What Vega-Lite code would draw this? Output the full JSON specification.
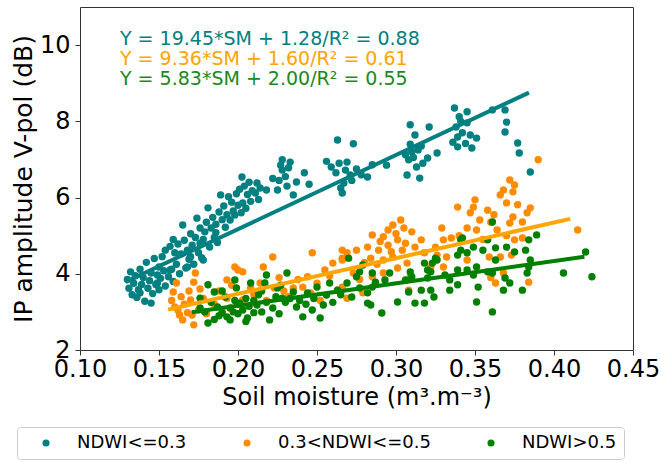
{
"$schema": "https://vega.github.io/schema/vega-lite/v6.json",
"width": 553, "height": 343,
"autosize": {"type": "none"},
"padding": {"left": 80, "top": 7, "right": 28, "bottom": 111},
"config": {
  "font": "DejaVu Sans",
  "view": {"stroke": "#333", "strokeWidth": 1},
  "axis": {"grid": false, "domain": false, "tickSize": 5, "tickColor": "#333", "labelFontSize": 24, "titleFontSize": 24, "titleFontWeight": "normal", "labelColor": "#000", "titleColor": "#000", "labelFont": "DejaVu Sans", "titleFont": "DejaVu Sans"}
},
"datasets": {
"pts": [
{"g":"NDWI<=0.3","x":0.130,"y":3.85},{"g":"NDWI<=0.3","x":0.131,"y":3.62},{"g":"NDWI<=0.3","x":0.132,"y":4.05},{"g":"NDWI<=0.3","x":0.133,"y":3.45},{"g":"NDWI<=0.3","x":0.134,"y":3.75},{"g":"NDWI<=0.3","x":0.135,"y":3.95},{"g":"NDWI<=0.3","x":0.136,"y":3.38},{"g":"NDWI<=0.3","x":0.137,"y":3.58},{"g":"NDWI<=0.3","x":0.138,"y":4.12},{"g":"NDWI<=0.3","x":0.139,"y":3.72},
{"g":"NDWI<=0.3","x":0.140,"y":3.9},{"g":"NDWI<=0.3","x":0.141,"y":3.28},{"g":"NDWI<=0.3","x":0.142,"y":4.3},{"g":"NDWI<=0.3","x":0.143,"y":3.62},{"g":"NDWI<=0.3","x":0.144,"y":3.82},{"g":"NDWI<=0.3","x":0.145,"y":4.02},{"g":"NDWI<=0.3","x":0.146,"y":3.48},{"g":"NDWI<=0.3","x":0.147,"y":4.4},{"g":"NDWI<=0.3","x":0.148,"y":3.72},{"g":"NDWI<=0.3","x":0.149,"y":3.97},
{"g":"NDWI<=0.3","x":0.150,"y":4.18},{"g":"NDWI<=0.3","x":0.150,"y":3.58},{"g":"NDWI<=0.3","x":0.151,"y":3.88},{"g":"NDWI<=0.3","x":0.152,"y":4.45},{"g":"NDWI<=0.3","x":0.153,"y":4.08},{"g":"NDWI<=0.3","x":0.154,"y":3.68},{"g":"NDWI<=0.3","x":0.154,"y":4.62},{"g":"NDWI<=0.3","x":0.156,"y":3.92},{"g":"NDWI<=0.3","x":0.157,"y":4.72},{"g":"NDWI<=0.3","x":0.158,"y":4.12},
{"g":"NDWI<=0.3","x":0.159,"y":3.8},{"g":"NDWI<=0.3","x":0.159,"y":4.9},{"g":"NDWI<=0.3","x":0.161,"y":4.25},{"g":"NDWI<=0.3","x":0.162,"y":4.78},{"g":"NDWI<=0.3","x":0.163,"y":4.0},{"g":"NDWI<=0.3","x":0.164,"y":4.52},{"g":"NDWI<=0.3","x":0.165,"y":5.28},{"g":"NDWI<=0.3","x":0.166,"y":4.88},{"g":"NDWI<=0.3","x":0.167,"y":4.15},{"g":"NDWI<=0.3","x":0.168,"y":4.62},
{"g":"NDWI<=0.3","x":0.169,"y":4.38},{"g":"NDWI<=0.3","x":0.170,"y":5.05},{"g":"NDWI<=0.3","x":0.171,"y":4.75},{"g":"NDWI<=0.3","x":0.172,"y":4.25},{"g":"NDWI<=0.3","x":0.173,"y":4.95},{"g":"NDWI<=0.3","x":0.174,"y":5.46},{"g":"NDWI<=0.3","x":0.175,"y":4.55},{"g":"NDWI<=0.3","x":0.176,"y":5.2},{"g":"NDWI<=0.3","x":0.177,"y":4.42},{"g":"NDWI<=0.3","x":0.178,"y":4.9},
{"g":"NDWI<=0.3","x":0.179,"y":5.1},{"g":"NDWI<=0.3","x":0.180,"y":5.35},{"g":"NDWI<=0.3","x":0.181,"y":5.73},{"g":"NDWI<=0.3","x":0.182,"y":4.7},{"g":"NDWI<=0.3","x":0.183,"y":5.2},{"g":"NDWI<=0.3","x":0.184,"y":5.48},{"g":"NDWI<=0.3","x":0.185,"y":4.95},{"g":"NDWI<=0.3","x":0.186,"y":5.3},{"g":"NDWI<=0.3","x":0.187,"y":4.82},{"g":"NDWI<=0.3","x":0.188,"y":5.62},
{"g":"NDWI<=0.3","x":0.189,"y":6.07},{"g":"NDWI<=0.3","x":0.190,"y":5.42},{"g":"NDWI<=0.3","x":0.191,"y":5.78},{"g":"NDWI<=0.3","x":0.192,"y":5.22},{"g":"NDWI<=0.3","x":0.193,"y":5.55},{"g":"NDWI<=0.3","x":0.194,"y":6.02},{"g":"NDWI<=0.3","x":0.195,"y":5.41},{"g":"NDWI<=0.3","x":0.196,"y":5.88},{"g":"NDWI<=0.3","x":0.197,"y":5.65},{"g":"NDWI<=0.3","x":0.198,"y":5.54},
{"g":"NDWI<=0.3","x":0.199,"y":6.1},{"g":"NDWI<=0.3","x":0.200,"y":5.8},{"g":"NDWI<=0.3","x":0.201,"y":6.22},{"g":"NDWI<=0.3","x":0.202,"y":5.6},{"g":"NDWI<=0.3","x":0.2025,"y":6.54},{"g":"NDWI<=0.3","x":0.203,"y":5.86},{"g":"NDWI<=0.3","x":0.204,"y":6.3},{"g":"NDWI<=0.3","x":0.205,"y":5.72},{"g":"NDWI<=0.3","x":0.206,"y":6.08},{"g":"NDWI<=0.3","x":0.207,"y":6.4},
{"g":"NDWI<=0.3","x":0.208,"y":5.9},{"g":"NDWI<=0.3","x":0.209,"y":6.18},{"g":"NDWI<=0.3","x":0.211,"y":6.12},{"g":"NDWI<=0.3","x":0.212,"y":6.38},{"g":"NDWI<=0.3","x":0.213,"y":5.95},{"g":"NDWI<=0.3","x":0.214,"y":6.25},{"g":"NDWI<=0.3","x":0.145,"y":3.23},{"g":"NDWI<=0.3","x":0.149,"y":3.76},{"g":"NDWI<=0.3","x":0.157,"y":4.1},{"g":"NDWI<=0.3","x":0.168,"y":4.18},
{"g":"NDWI<=0.3","x":0.178,"y":4.36},{"g":"NDWI<=0.3","x":0.138,"y":3.5},{"g":"NDWI<=0.3","x":0.160,"y":4.55},{"g":"NDWI<=0.3","x":0.170,"y":4.45},{"g":"NDWI<=0.3","x":0.186,"y":5.08},{"g":"NDWI<=0.3","x":0.176,"y":4.8},
{"g":"NDWI<=0.3","x":0.263,"y":7.51},{"g":"NDWI<=0.3","x":0.273,"y":7.41},{"g":"NDWI<=0.3","x":0.228,"y":6.99},{"g":"NDWI<=0.3","x":0.233,"y":6.93},{"g":"NDWI<=0.3","x":0.228,"y":6.72},{"g":"NDWI<=0.3","x":0.242,"y":6.65},{"g":"NDWI<=0.3","x":0.237,"y":6.41},{"g":"NDWI<=0.3","x":0.225,"y":6.2},{"g":"NDWI<=0.3","x":0.235,"y":6.07},{"g":"NDWI<=0.3","x":0.259,"y":6.8},
{"g":"NDWI<=0.3","x":0.269,"y":6.93},{"g":"NDWI<=0.3","x":0.271,"y":6.59},{"g":"NDWI<=0.3","x":0.265,"y":6.25},{"g":"NDWI<=0.3","x":0.266,"y":6.12},{"g":"NDWI<=0.3","x":0.282,"y":6.54},{"g":"NDWI<=0.3","x":0.285,"y":6.86},{"g":"NDWI<=0.3","x":0.230,"y":6.55},{"g":"NDWI<=0.3","x":0.226,"y":6.45},{"g":"NDWI<=0.3","x":0.232,"y":6.78},{"g":"NDWI<=0.3","x":0.262,"y":6.65},
{"g":"NDWI<=0.3","x":0.268,"y":6.72},{"g":"NDWI<=0.3","x":0.272,"y":6.45},{"g":"NDWI<=0.3","x":0.267,"y":6.38},{"g":"NDWI<=0.3","x":0.264,"y":6.9},{"g":"NDWI<=0.3","x":0.227,"y":6.85},{"g":"NDWI<=0.3","x":0.231,"y":6.3},{"g":"NDWI<=0.3","x":0.218,"y":6.2},{"g":"NDWI<=0.3","x":0.222,"y":6.5},{"g":"NDWI<=0.3","x":0.245,"y":6.35},{"g":"NDWI<=0.3","x":0.275,"y":6.75},
{"g":"NDWI<=0.3","x":0.278,"y":6.6},{"g":"NDWI<=0.3","x":0.256,"y":6.95},
{"g":"NDWI<=0.3","x":0.337,"y":8.35},{"g":"NDWI<=0.3","x":0.345,"y":8.25},{"g":"NDWI<=0.3","x":0.361,"y":8.30},{"g":"NDWI<=0.3","x":0.369,"y":8.30},{"g":"NDWI<=0.3","x":0.370,"y":7.98},{"g":"NDWI<=0.3","x":0.369,"y":7.72},{"g":"NDWI<=0.3","x":0.377,"y":7.43},{"g":"NDWI<=0.3","x":0.378,"y":7.17},{"g":"NDWI<=0.3","x":0.385,"y":6.67},{"g":"NDWI<=0.3","x":0.309,"y":7.91},
{"g":"NDWI<=0.3","x":0.321,"y":7.85},{"g":"NDWI<=0.3","x":0.312,"y":7.64},{"g":"NDWI<=0.3","x":0.310,"y":7.20},{"g":"NDWI<=0.3","x":0.314,"y":7.25},{"g":"NDWI<=0.3","x":0.308,"y":6.99},{"g":"NDWI<=0.3","x":0.313,"y":6.80},{"g":"NDWI<=0.3","x":0.307,"y":6.59},{"g":"NDWI<=0.3","x":0.315,"y":6.51},{"g":"NDWI<=0.3","x":0.320,"y":7.04},{"g":"NDWI<=0.3","x":0.326,"y":7.17},
{"g":"NDWI<=0.3","x":0.339,"y":7.59},{"g":"NDWI<=0.3","x":0.339,"y":7.33},{"g":"NDWI<=0.3","x":0.347,"y":7.64},{"g":"NDWI<=0.3","x":0.351,"y":7.56},{"g":"NDWI<=0.3","x":0.345,"y":7.96},{"g":"NDWI<=0.3","x":0.340,"y":8.12},{"g":"NDWI<=0.3","x":0.311,"y":7.05},{"g":"NDWI<=0.3","x":0.316,"y":7.35},{"g":"NDWI<=0.3","x":0.309,"y":7.4},{"g":"NDWI<=0.3","x":0.336,"y":7.45},
{"g":"NDWI<=0.3","x":0.342,"y":7.7},{"g":"NDWI<=0.3","x":0.338,"y":7.85},{"g":"NDWI<=0.3","x":0.344,"y":7.42},{"g":"NDWI<=0.3","x":0.348,"y":7.3},{"g":"NDWI<=0.3","x":0.306,"y":7.12},{"g":"NDWI<=0.3","x":0.317,"y":6.9},{"g":"NDWI<=0.3","x":0.341,"y":8.0},{"g":"NDWI<=0.3","x":0.294,"y":6.85},
{"g":"0.3<NDWI<=0.5","x":0.161,"y":3.76},{"g":"0.3<NDWI<=0.5","x":0.159,"y":3.52},{"g":"0.3<NDWI<=0.5","x":0.160,"y":3.13},{"g":"0.3<NDWI<=0.5","x":0.163,"y":2.92},{"g":"0.3<NDWI<=0.5","x":0.165,"y":2.79},{"g":"0.3<NDWI<=0.5","x":0.172,"y":2.66},{"g":"0.3<NDWI<=0.5","x":0.171,"y":2.92},{"g":"0.3<NDWI<=0.5","x":0.170,"y":3.31},{"g":"0.3<NDWI<=0.5","x":0.173,"y":4.02},{"g":"0.3<NDWI<=0.5","x":0.172,"y":3.78},
{"g":"0.3<NDWI<=0.5","x":0.158,"y":3.3},{"g":"0.3<NDWI<=0.5","x":0.162,"y":3.05},{"g":"0.3<NDWI<=0.5","x":0.164,"y":3.4},{"g":"0.3<NDWI<=0.5","x":0.166,"y":3.2},{"g":"0.3<NDWI<=0.5","x":0.168,"y":2.98},{"g":"0.3<NDWI<=0.5","x":0.169,"y":3.55},{"g":"0.3<NDWI<=0.5","x":0.175,"y":3.05},{"g":"0.3<NDWI<=0.5","x":0.176,"y":3.6},{"g":"0.3<NDWI<=0.5","x":0.178,"y":3.35},{"g":"0.3<NDWI<=0.5","x":0.180,"y":2.95},
{"g":"0.3<NDWI<=0.5","x":0.193,"y":3.84},{"g":"0.3<NDWI<=0.5","x":0.198,"y":4.18},{"g":"0.3<NDWI<=0.5","x":0.203,"y":4.05},{"g":"0.3<NDWI<=0.5","x":0.216,"y":4.18},{"g":"0.3<NDWI<=0.5","x":0.222,"y":4.44},{"g":"0.3<NDWI<=0.5","x":0.214,"y":3.76},{"g":"0.3<NDWI<=0.5","x":0.208,"y":3.63},{"g":"0.3<NDWI<=0.5","x":0.193,"y":3.36},{"g":"0.3<NDWI<=0.5","x":0.203,"y":3.31},{"g":"0.3<NDWI<=0.5","x":0.223,"y":3.63},
{"g":"0.3<NDWI<=0.5","x":0.235,"y":3.63},{"g":"0.3<NDWI<=0.5","x":0.244,"y":3.92},{"g":"0.3<NDWI<=0.5","x":0.247,"y":4.55},{"g":"0.3<NDWI<=0.5","x":0.241,"y":3.65},{"g":"0.3<NDWI<=0.5","x":0.260,"y":4.28},{"g":"0.3<NDWI<=0.5","x":0.266,"y":4.62},{"g":"0.3<NDWI<=0.5","x":0.266,"y":4.41},{"g":"0.3<NDWI<=0.5","x":0.263,"y":3.57},{"g":"0.3<NDWI<=0.5","x":0.269,"y":3.36},{"g":"0.3<NDWI<=0.5","x":0.200,"y":4.10},
{"g":"0.3<NDWI<=0.5","x":0.188,"y":3.55},{"g":"0.3<NDWI<=0.5","x":0.196,"y":3.7},{"g":"0.3<NDWI<=0.5","x":0.210,"y":3.45},{"g":"0.3<NDWI<=0.5","x":0.226,"y":3.9},{"g":"0.3<NDWI<=0.5","x":0.232,"y":3.4},{"g":"0.3<NDWI<=0.5","x":0.238,"y":3.85},{"g":"0.3<NDWI<=0.5","x":0.250,"y":3.75},{"g":"0.3<NDWI<=0.5","x":0.255,"y":4.1},{"g":"0.3<NDWI<=0.5","x":0.258,"y":3.95},{"g":"0.3<NDWI<=0.5","x":0.229,"y":3.55},
{"g":"0.3<NDWI<=0.5","x":0.185,"y":3.2},{"g":"0.3<NDWI<=0.5","x":0.190,"y":3.0},{"g":"0.3<NDWI<=0.5","x":0.218,"y":3.3},{"g":"0.3<NDWI<=0.5","x":0.246,"y":3.5},{"g":"0.3<NDWI<=0.5","x":0.252,"y":3.3},
{"g":"0.3<NDWI<=0.5","x":0.390,"y":6.99},{"g":"0.3<NDWI<=0.5","x":0.372,"y":6.46},{"g":"0.3<NDWI<=0.5","x":0.375,"y":6.33},{"g":"0.3<NDWI<=0.5","x":0.368,"y":6.20},{"g":"0.3<NDWI<=0.5","x":0.366,"y":6.07},{"g":"0.3<NDWI<=0.5","x":0.350,"y":5.94},{"g":"0.3<NDWI<=0.5","x":0.349,"y":5.75},{"g":"0.3<NDWI<=0.5","x":0.339,"y":5.75},{"g":"0.3<NDWI<=0.5","x":0.358,"y":5.67},{"g":"0.3<NDWI<=0.5","x":0.370,"y":5.86},
{"g":"0.3<NDWI<=0.5","x":0.377,"y":5.81},{"g":"0.3<NDWI<=0.5","x":0.385,"y":5.73},{"g":"0.3<NDWI<=0.5","x":0.347,"y":5.60},{"g":"0.3<NDWI<=0.5","x":0.353,"y":5.41},{"g":"0.3<NDWI<=0.5","x":0.374,"y":5.49},{"g":"0.3<NDWI<=0.5","x":0.380,"y":5.36},{"g":"0.3<NDWI<=0.5","x":0.372,"y":5.33},{"g":"0.3<NDWI<=0.5","x":0.364,"y":5.15},{"g":"0.3<NDWI<=0.5","x":0.351,"y":5.15},{"g":"0.3<NDWI<=0.5","x":0.345,"y":5.20},
{"g":"0.3<NDWI<=0.5","x":0.329,"y":5.20},{"g":"0.3<NDWI<=0.5","x":0.415,"y":5.15},{"g":"0.3<NDWI<=0.5","x":0.303,"y":5.41},{"g":"0.3<NDWI<=0.5","x":0.298,"y":5.28},{"g":"0.3<NDWI<=0.5","x":0.295,"y":5.15},{"g":"0.3<NDWI<=0.5","x":0.285,"y":5.02},{"g":"0.3<NDWI<=0.5","x":0.292,"y":4.97},{"g":"0.3<NDWI<=0.5","x":0.301,"y":4.89},{"g":"0.3<NDWI<=0.5","x":0.316,"y":4.89},{"g":"0.3<NDWI<=0.5","x":0.330,"y":4.89},
{"g":"0.3<NDWI<=0.5","x":0.335,"y":4.94},{"g":"0.3<NDWI<=0.5","x":0.375,"y":4.89},{"g":"0.3<NDWI<=0.5","x":0.380,"y":4.94},{"g":"0.3<NDWI<=0.5","x":0.275,"y":4.62},{"g":"0.3<NDWI<=0.5","x":0.269,"y":4.55},{"g":"0.3<NDWI<=0.5","x":0.289,"y":4.62},{"g":"0.3<NDWI<=0.5","x":0.304,"y":4.62},{"g":"0.3<NDWI<=0.5","x":0.312,"y":4.70},{"g":"0.3<NDWI<=0.5","x":0.298,"y":4.44},{"g":"0.3<NDWI<=0.5","x":0.292,"y":4.36},
{"g":"0.3<NDWI<=0.5","x":0.284,"y":4.41},{"g":"0.3<NDWI<=0.5","x":0.307,"y":4.28},{"g":"0.3<NDWI<=0.5","x":0.326,"y":4.49},{"g":"0.3<NDWI<=0.5","x":0.332,"y":4.44},{"g":"0.3<NDWI<=0.5","x":0.330,"y":4.18},{"g":"0.3<NDWI<=0.5","x":0.322,"y":4.18},{"g":"0.3<NDWI<=0.5","x":0.345,"y":4.36},{"g":"0.3<NDWI<=0.5","x":0.359,"y":4.44},{"g":"0.3<NDWI<=0.5","x":0.366,"y":4.44},{"g":"0.3<NDWI<=0.5","x":0.373,"y":4.49},
{"g":"0.3<NDWI<=0.5","x":0.292,"y":4.02},{"g":"0.3<NDWI<=0.5","x":0.301,"y":4.15},{"g":"0.3<NDWI<=0.5","x":0.309,"y":3.92},{"g":"0.3<NDWI<=0.5","x":0.285,"y":3.92},{"g":"0.3<NDWI<=0.5","x":0.273,"y":4.02},{"g":"0.3<NDWI<=0.5","x":0.266,"y":4.36},{"g":"0.3<NDWI<=0.5","x":0.266,"y":3.65},{"g":"0.3<NDWI<=0.5","x":0.279,"y":3.50},{"g":"0.3<NDWI<=0.5","x":0.363,"y":3.76},{"g":"0.3<NDWI<=0.5","x":0.368,"y":4.02},
{"g":"0.3<NDWI<=0.5","x":0.384,"y":3.78},{"g":"0.3<NDWI<=0.5","x":0.308,"y":3.57},{"g":"0.3<NDWI<=0.5","x":0.295,"y":4.75},{"g":"0.3<NDWI<=0.5","x":0.300,"y":5.05},{"g":"0.3<NDWI<=0.5","x":0.306,"y":4.8},{"g":"0.3<NDWI<=0.5","x":0.288,"y":4.25},{"g":"0.3<NDWI<=0.5","x":0.310,"y":5.1},{"g":"0.3<NDWI<=0.5","x":0.318,"y":4.55},{"g":"0.3<NDWI<=0.5","x":0.282,"y":4.7},{"g":"0.3<NDWI<=0.5","x":0.297,"y":4.58},
{"g":"0.3<NDWI<=0.5","x":0.290,"y":4.85},{"g":"0.3<NDWI<=0.5","x":0.305,"y":5.2},{"g":"0.3<NDWI<=0.5","x":0.360,"y":5.35},{"g":"0.3<NDWI<=0.5","x":0.355,"y":4.9},{"g":"0.3<NDWI<=0.5","x":0.370,"y":5.0},{"g":"0.3<NDWI<=0.5","x":0.340,"y":5.0},{"g":"0.3<NDWI<=0.5","x":0.325,"y":4.7},{"g":"0.3<NDWI<=0.5","x":0.280,"y":4.3},{"g":"0.3<NDWI<=0.5","x":0.277,"y":3.85},{"g":"0.3<NDWI<=0.5","x":0.360,"y":3.9},
{"g":"0.3<NDWI<=0.5","x":0.383,"y":5.6},{"g":"0.3<NDWI<=0.5","x":0.362,"y":5.55},{"g":"0.3<NDWI<=0.5","x":0.374,"y":6.15},
{"g":"NDWI>0.5","x":0.181,"y":3.71},{"g":"NDWI>0.5","x":0.185,"y":3.52},{"g":"NDWI>0.5","x":0.176,"y":3.36},{"g":"NDWI>0.5","x":0.181,"y":2.71},{"g":"NDWI>0.5","x":0.190,"y":2.97},{"g":"NDWI>0.5","x":0.198,"y":3.84},{"g":"NDWI>0.5","x":0.199,"y":3.63},{"g":"NDWI>0.5","x":0.208,"y":3.76},{"g":"NDWI>0.5","x":0.217,"y":3.76},{"g":"NDWI>0.5","x":0.218,"y":3.97},
{"g":"NDWI>0.5","x":0.231,"y":4.02},{"g":"NDWI>0.5","x":0.225,"y":3.63},{"g":"NDWI>0.5","x":0.228,"y":3.36},{"g":"NDWI>0.5","x":0.220,"y":2.79},{"g":"NDWI>0.5","x":0.206,"y":2.84},{"g":"NDWI>0.5","x":0.195,"y":2.79},{"g":"NDWI>0.5","x":0.201,"y":3.23},{"g":"NDWI>0.5","x":0.212,"y":3.18},{"g":"NDWI>0.5","x":0.237,"y":3.13},{"g":"NDWI>0.5","x":0.241,"y":2.87},
{"g":"NDWI>0.5","x":0.247,"y":3.05},{"g":"NDWI>0.5","x":0.252,"y":2.84},{"g":"NDWI>0.5","x":0.254,"y":3.18},{"g":"NDWI>0.5","x":0.244,"y":3.50},{"g":"NDWI>0.5","x":0.256,"y":3.44},{"g":"NDWI>0.5","x":0.263,"y":3.57},{"g":"NDWI>0.5","x":0.250,"y":3.65},{"g":"NDWI>0.5","x":0.258,"y":3.76},{"g":"NDWI>0.5","x":0.235,"y":3.52},{"g":"NDWI>0.5","x":0.176,"y":3.10},
{"g":"NDWI>0.5","x":0.187,"y":3.13},{"g":"NDWI>0.5","x":0.192,"y":3.39},{"g":"NDWI>0.5","x":0.193,"y":2.87},{"g":"NDWI>0.5","x":0.183,"y":3.25},{"g":"NDWI>0.5","x":0.188,"y":2.9},{"g":"NDWI>0.5","x":0.195,"y":3.1},{"g":"NDWI>0.5","x":0.197,"y":3.0},{"g":"NDWI>0.5","x":0.200,"y":2.95},{"g":"NDWI>0.5","x":0.203,"y":3.05},{"g":"NDWI>0.5","x":0.205,"y":3.35},
{"g":"NDWI>0.5","x":0.207,"y":3.15},{"g":"NDWI>0.5","x":0.210,"y":2.98},{"g":"NDWI>0.5","x":0.213,"y":3.45},{"g":"NDWI>0.5","x":0.215,"y":3.0},{"g":"NDWI>0.5","x":0.218,"y":3.25},{"g":"NDWI>0.5","x":0.222,"y":3.1},{"g":"NDWI>0.5","x":0.224,"y":3.4},{"g":"NDWI>0.5","x":0.226,"y":2.95},{"g":"NDWI>0.5","x":0.230,"y":3.25},{"g":"NDWI>0.5","x":0.233,"y":3.35},
{"g":"NDWI>0.5","x":0.239,"y":3.3},{"g":"NDWI>0.5","x":0.243,"y":3.2},{"g":"NDWI>0.5","x":0.248,"y":3.35},{"g":"NDWI>0.5","x":0.260,"y":3.25},{"g":"NDWI>0.5","x":0.265,"y":3.45},{"g":"NDWI>0.5","x":0.198,"y":3.3},{"g":"NDWI>0.5","x":0.205,"y":2.75},{"g":"NDWI>0.5","x":0.215,"y":3.55},{"g":"NDWI>0.5","x":0.190,"y":3.55},{"g":"NDWI>0.5","x":0.200,"y":3.2},
{"g":"NDWI>0.5","x":0.210,"y":3.3},{"g":"NDWI>0.5","x":0.179,"y":3.0},{"g":"NDWI>0.5","x":0.227,"y":3.7},{"g":"NDWI>0.5","x":0.185,"y":2.8},
{"g":"NDWI>0.5","x":0.361,"y":5.36},{"g":"NDWI>0.5","x":0.389,"y":5.02},{"g":"NDWI>0.5","x":0.384,"y":4.89},{"g":"NDWI>0.5","x":0.341,"y":4.89},{"g":"NDWI>0.5","x":0.420,"y":4.57},{"g":"NDWI>0.5","x":0.406,"y":4.02},{"g":"NDWI>0.5","x":0.424,"y":3.92},{"g":"NDWI>0.5","x":0.361,"y":3.0},{"g":"NDWI>0.5","x":0.351,"y":3.26},{"g":"NDWI>0.5","x":0.291,"y":2.97},
{"g":"NDWI>0.5","x":0.282,"y":3.23},{"g":"NDWI>0.5","x":0.301,"y":3.26},{"g":"NDWI>0.5","x":0.312,"y":3.23},{"g":"NDWI>0.5","x":0.318,"y":3.23},{"g":"NDWI>0.5","x":0.324,"y":3.39},{"g":"NDWI>0.5","x":0.322,"y":3.57},{"g":"NDWI>0.5","x":0.308,"y":3.52},{"g":"NDWI>0.5","x":0.334,"y":3.57},{"g":"NDWI>0.5","x":0.339,"y":3.71},{"g":"NDWI>0.5","x":0.352,"y":3.65},
{"g":"NDWI>0.5","x":0.368,"y":3.57},{"g":"NDWI>0.5","x":0.380,"y":3.57},{"g":"NDWI>0.5","x":0.372,"y":3.76},{"g":"NDWI>0.5","x":0.369,"y":3.89},{"g":"NDWI>0.5","x":0.361,"y":4.02},{"g":"NDWI>0.5","x":0.358,"y":4.05},{"g":"NDWI>0.5","x":0.349,"y":3.97},{"g":"NDWI>0.5","x":0.351,"y":4.18},{"g":"NDWI>0.5","x":0.345,"y":4.10},{"g":"NDWI>0.5","x":0.339,"y":4.10},
{"g":"NDWI>0.5","x":0.331,"y":3.97},{"g":"NDWI>0.5","x":0.322,"y":4.05},{"g":"NDWI>0.5","x":0.323,"y":4.28},{"g":"NDWI>0.5","x":0.326,"y":4.36},{"g":"NDWI>0.5","x":0.320,"y":3.89},{"g":"NDWI>0.5","x":0.334,"y":3.84},{"g":"NDWI>0.5","x":0.341,"y":4.62},{"g":"NDWI>0.5","x":0.345,"y":4.55},{"g":"NDWI>0.5","x":0.349,"y":4.70},{"g":"NDWI>0.5","x":0.355,"y":4.62},
{"g":"NDWI>0.5","x":0.363,"y":4.68},{"g":"NDWI>0.5","x":0.370,"y":4.70},{"g":"NDWI>0.5","x":0.375,"y":4.57},{"g":"NDWI>0.5","x":0.382,"y":4.62},{"g":"NDWI>0.5","x":0.385,"y":4.36},{"g":"NDWI>0.5","x":0.384,"y":4.18},{"g":"NDWI>0.5","x":0.383,"y":4.02},{"g":"NDWI>0.5","x":0.363,"y":4.36},{"g":"NDWI>0.5","x":0.358,"y":4.89},{"g":"NDWI>0.5","x":0.342,"y":4.94},
{"g":"NDWI>0.5","x":0.339,"y":4.49},{"g":"NDWI>0.5","x":0.325,"y":4.41},{"g":"NDWI>0.5","x":0.318,"y":4.28},{"g":"NDWI>0.5","x":0.320,"y":4.10},{"g":"NDWI>0.5","x":0.309,"y":4.05},{"g":"NDWI>0.5","x":0.306,"y":3.84},{"g":"NDWI>0.5","x":0.310,"y":3.92},{"g":"NDWI>0.5","x":0.296,"y":4.02},{"g":"NDWI>0.5","x":0.293,"y":3.84},{"g":"NDWI>0.5","x":0.287,"y":3.78},
{"g":"NDWI>0.5","x":0.285,"y":4.02},{"g":"NDWI>0.5","x":0.285,"y":3.65},{"g":"NDWI>0.5","x":0.282,"y":3.50},{"g":"NDWI>0.5","x":0.284,"y":3.18},{"g":"NDWI>0.5","x":0.277,"y":3.63},{"g":"NDWI>0.5","x":0.272,"y":3.39},{"g":"NDWI>0.5","x":0.269,"y":3.76},{"g":"NDWI>0.5","x":0.275,"y":3.92},{"g":"NDWI>0.5","x":0.277,"y":4.05},{"g":"NDWI>0.5","x":0.279,"y":4.23},
{"g":"NDWI>0.5","x":0.270,"y":4.41},{"g":"NDWI>0.5","x":0.316,"y":3.57}
],
"lines": [
{"g":"NDWI<=0.3","x":0.130,"y":3.81},{"g":"NDWI<=0.3","x":0.383,"y":8.73},
{"g":"0.3<NDWI<=0.5","x":0.157,"y":3.07},{"g":"0.3<NDWI<=0.5","x":0.409,"y":5.43},
{"g":"NDWI>0.5","x":0.172,"y":3.00},{"g":"NDWI>0.5","x":0.418,"y":4.44}
],
"notes": [
{"g":"NDWI<=0.3","x":0.1253,"y":10.0,"label":"Y = 19.45*SM + 1.28/R² = 0.88"},
{"g":"0.3<NDWI<=0.5","x":0.1253,"y":9.475,"label":"Y = 9.36*SM + 1.60/R² = 0.61"},
{"g":"NDWI>0.5","x":0.1253,"y":8.95,"label":"Y = 5.83*SM + 2.00/R² = 0.55"}
]
},
"encoding": {
  "x": {"field": "x", "type": "quantitative", "scale": {"domain": [0.1, 0.45], "nice": false, "zero": false},
        "axis": {"values": [0.1, 0.15, 0.2, 0.25, 0.3, 0.35, 0.4, 0.45], "format": ".2f", "title": "Soil moisture (m³.m⁻³)", "labelFlush": false, "labelOverlap": false, "labelPadding": 2, "titlePadding": 4}},
  "y": {"field": "y", "type": "quantitative", "scale": {"domain": [2, 11], "nice": false, "zero": false},
        "axis": {"values": [2, 4, 6, 8, 10], "title": "IP amplitude V-pol (dB)", "titleFontSize": 25, "labelFlush": false, "labelOverlap": false, "labelPadding": 5, "titlePadding": 3}}
},
"layer": [
  {"data": {"name": "lines"}, "transform": [{"filter": "datum.g == 'NDWI<=0.3'"}],
   "mark": {"type": "line", "strokeWidth": 4, "strokeCap": "square"},
   "encoding": {"color": {"field": "g", "type": "nominal", "scale": {"domain": ["NDWI<=0.3"], "range": ["#008080"]}, "legend": null}}},
  {"data": {"name": "pts"},
   "mark": {"type": "circle", "size": 55, "opacity": 1},
   "encoding": {"color": {"field": "g", "type": "nominal",
      "scale": {"domain": ["NDWI<=0.3", "0.3<NDWI<=0.5", "NDWI>0.5"], "range": ["#008080", "#FF8C00", "#008000"]},
      "legend": {"title": null, "orient": "none", "legendX": -63, "legendY": 420, "direction": "horizontal", "columns": 3,
                 "columnPadding": 38, "symbolType": "circle", "symbolSize": 50, "symbolOffset": 13, "labelOffset": 22,
                 "labelFontSize": 18, "labelFont": "DejaVu Sans", "labelColor": "#000", "padding": 7, "strokeColor": "#ccc", "cornerRadius": 3, "fillColor": "white", "labelLimit": 300}}}},
  {"data": {"name": "lines"}, "transform": [{"filter": "datum.g != 'NDWI<=0.3'"}],
   "mark": {"type": "line", "strokeWidth": 4, "strokeCap": "square"},
   "encoding": {"detail": {"field": "g"}, "color": {"field": "g", "type": "nominal", "scale": {"domain": ["0.3<NDWI<=0.5", "NDWI>0.5"], "range": ["#FFA500", "#008000"]}, "legend": null}}},
  {"data": {"name": "notes"},
   "mark": {"type": "text", "align": "left", "baseline": "alphabetic", "fontSize": 19, "font": "DejaVu Sans"},
   "encoding": {"text": {"field": "label"}, "color": {"field": "g", "type": "nominal", "scale": {"domain": ["NDWI<=0.3", "0.3<NDWI<=0.5", "NDWI>0.5"], "range": ["#008080", "#FFA500", "#1a8a1a"]}, "legend": null}}}
],
"resolve": {"scale": {"color": "independent"}}
}
